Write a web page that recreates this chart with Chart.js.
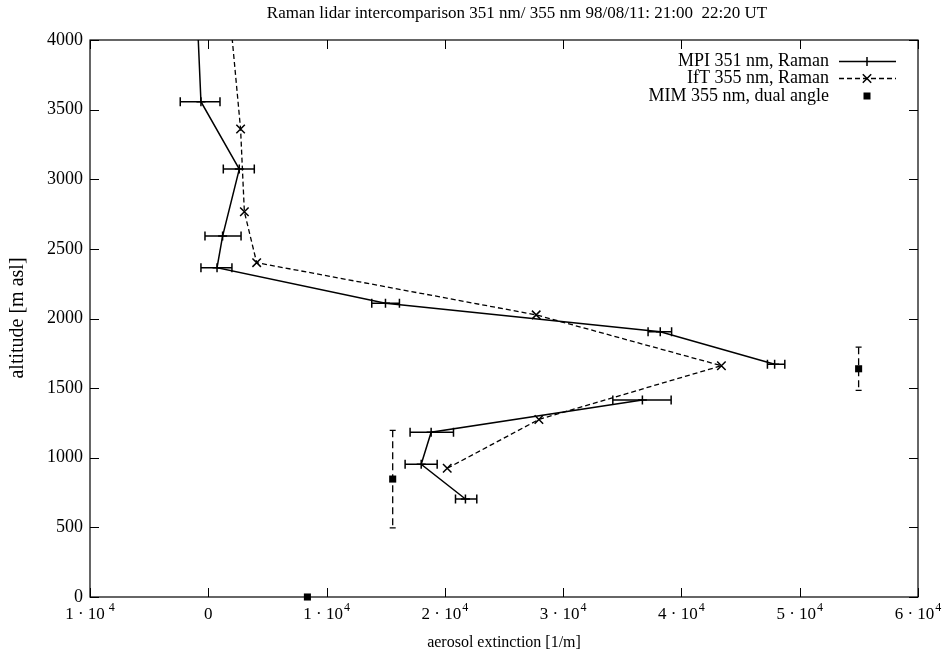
<!DOCTYPE html>
<html>
<head>
<meta charset="utf-8">
<script src="https://cdn.jsdelivr.net/npm/chart.js@4.4.1/dist/chart.umd.min.js"></script>
<style>
  html, body { margin: 0; padding: 0; background: #fff; }
  canvas { display: block; }
</style>
</head>
<body>
<canvas id="c" width="943" height="656"></canvas>
<script>
// ---------- data ----------
const titleText = 'Raman lidar intercomparison 351 nm/ 355 nm 98/08/11: 21:00  22:20 UT';
const xAxisTitle = 'aerosol extinction [1/m]';
const yAxisTitle = 'altitude [m asl]';

// MPI 351 nm, Raman (null = gap in the profile)
const mpiAlt = [4300, 3557, 3073, 2592, 2365, 2109, 1905, 1671, null, 1415, 1183, 953, 704];
const mpiExt = [-1000, -620, 2620, 1210, 740, 14980, 38210, 47880, null, 36700, 18840, 18000, 21740];
const mpiLo  = [null, -2370, 1270, -280, -620, 13820, 37180, 47270, null, 34200, 17060, 16640, 20900];
const mpiHi  = [null, 990, 3890, 2770, 2000, 16160, 39170, 48740, null, 39130, 20730, 19350, 22700];

// IfT 355 nm, Raman
const iftAlt = [4300, 3361, 2767, 2401, 2026, 1661, 1275, 924];
const iftExt = [1700, 2730, 3050, 4090, 27720, 43380, 27950, 20200];

// MIM 355 nm, dual angle
const mimAlt = [0, 847, 1639];
const mimExt = [8380, 15590, 54980];
const mimErr = [0, 350, 155];

// axes
const xTicks = [-10000, 0, 10000, 20000, 30000, 40000, 50000, 60000];
const xTickMant = ['1 \u00b7 10', '0', '1 \u00b7 10', '2 \u00b7 10', '3 \u00b7 10', '4 \u00b7 10', '5 \u00b7 10', '6 \u00b7 10'];
const xTickExp  = [' 4', '', '4', '4', '4', '4', '4', '4'];
const yTicks = [0, 500, 1000, 1500, 2000, 2500, 3000, 3500, 4000];

const legendLabels = ['MPI 351 nm, Raman', 'IfT 355 nm, Raman', 'MIM 355 nm, dual angle'];

// ---------- helpers ----------
const FONT = '"Liberation Serif", "Times New Roman", serif';
function pts(xs, ys) {
  return xs.map((v, i) => (v === null || ys[i] === null) ? { x: null, y: null } : { x: v, y: ys[i] });
}

const decor = {
  id: 'decor',
  afterDatasetsDraw(chart) {
    const { ctx, chartArea: a, scales: { x, y } } = chart;
    ctx.save();
    ctx.save();
    ctx.beginPath();
    ctx.rect(a.left, a.top, a.right - a.left, a.bottom - a.top);
    ctx.clip();
    ctx.strokeStyle = '#000';
    ctx.lineWidth = 1.5;
    for (let i = 0; i < mpiAlt.length; i++) {
      if (mpiAlt[i] === null || mpiLo[i] === null) continue;
      const py = y.getPixelForValue(mpiAlt[i]);
      const x1 = x.getPixelForValue(mpiLo[i]);
      const x2 = x.getPixelForValue(mpiHi[i]);
      ctx.beginPath();
      ctx.moveTo(x1, py); ctx.lineTo(x2, py);
      ctx.moveTo(x1, py - 4.5); ctx.lineTo(x1, py + 4.5);
      ctx.moveTo(x2, py - 4.5); ctx.lineTo(x2, py + 4.5);
      ctx.stroke();
    }
    ctx.restore();
    ctx.strokeStyle = '#000';
    ctx.lineWidth = 1.3;
    for (let i = 0; i < mimAlt.length; i++) {
      if (!mimErr[i]) continue;
      const px = x.getPixelForValue(mimExt[i]);
      const y1 = y.getPixelForValue(mimAlt[i] - mimErr[i]);
      const y2 = y.getPixelForValue(mimAlt[i] + mimErr[i]);
      ctx.setLineDash([7, 4]);
      ctx.beginPath();
      ctx.moveTo(px, y2); ctx.lineTo(px, y1);
      ctx.stroke();
      ctx.setLineDash([]);
      ctx.beginPath();
      ctx.moveTo(px - 3, y1); ctx.lineTo(px + 3, y1);
      ctx.moveTo(px - 3, y2); ctx.lineTo(px + 3, y2);
      ctx.stroke();
    }
    ctx.restore();
  },
  afterDraw(chart) {
    const { ctx, chartArea: a, scales: { x, y } } = chart;
    ctx.save();
    ctx.fillStyle = '#000';
    ctx.strokeStyle = '#000';
    ctx.lineWidth = 1.2;
    ctx.strokeRect(a.left, a.top, a.right - a.left, a.bottom - a.top);
    ctx.lineWidth = 1;
    ctx.beginPath();
    yTicks.forEach(v => {
      const py = Math.round(y.getPixelForValue(v)) + 0.5;
      ctx.moveTo(a.left, py); ctx.lineTo(a.left + 9, py);
      ctx.moveTo(a.right, py); ctx.lineTo(a.right - 9, py);
    });
    xTicks.forEach(v => {
      const px = Math.round(x.getPixelForValue(v)) + 0.5;
      ctx.moveTo(px, a.bottom); ctx.lineTo(px, a.bottom - 9);
      ctx.moveTo(px, a.top); ctx.lineTo(px, a.top + 9);
    });
    ctx.stroke();
    ctx.textBaseline = 'alphabetic';
    ctx.textAlign = 'left';
    xTicks.forEach((v, i) => {
      const px = x.getPixelForValue(v);
      ctx.font = '17px ' + FONT;
      const w1 = ctx.measureText(xTickMant[i]).width;
      ctx.font = '12px ' + FONT;
      const w2 = xTickExp[i] ? ctx.measureText(xTickExp[i]).width + 1 : 0;
      const start = px - (w1 + w2) / 2;
      ctx.font = '17px ' + FONT;
      ctx.fillText(xTickMant[i], start, 619);
      if (xTickExp[i]) {
        ctx.font = '12px ' + FONT;
        ctx.fillText(xTickExp[i], start + w1 + 1, 611);
      }
    });
    ctx.font = '17px ' + FONT;
    ctx.textAlign = 'center';
    ctx.textBaseline = 'middle';
    ctx.fillText(titleText, 517, 14);
    ctx.font = '16px ' + FONT;
    ctx.fillText(xAxisTitle, (a.left + a.right) / 2, 643);
    ctx.save();
    ctx.translate(18, 318);
    ctx.rotate(-Math.PI / 2);
    ctx.font = '20px ' + FONT;
    ctx.fillText(yAxisTitle, 0, 0);
    ctx.restore();
    const lx1 = 839, lx2 = 896, lxm = 867, tx = 829;
    const rows = [61.5, 78.5, 96];
    ctx.font = '18px ' + FONT;
    ctx.textAlign = 'right';
    legendLabels.forEach((t, i) => ctx.fillText(t, tx, rows[i]));
    ctx.lineWidth = 1.5;
    ctx.beginPath();
    ctx.moveTo(lx1, rows[0]); ctx.lineTo(lx2, rows[0]);
    ctx.moveTo(lxm, rows[0] - 4.5); ctx.lineTo(lxm, rows[0] + 4.5);
    ctx.stroke();
    ctx.setLineDash([5, 3]);
    ctx.beginPath();
    ctx.moveTo(lx1, rows[1]); ctx.lineTo(lx2, rows[1]);
    ctx.stroke();
    ctx.setLineDash([]);
    ctx.beginPath();
    ctx.moveTo(lxm - 4.2, rows[1] - 4.2); ctx.lineTo(lxm + 4.2, rows[1] + 4.2);
    ctx.moveTo(lxm - 4.2, rows[1] + 4.2); ctx.lineTo(lxm + 4.2, rows[1] - 4.2);
    ctx.stroke();
    ctx.fillRect(lxm - 3.5, rows[2] - 3.5, 7, 7);
    ctx.restore();
  }
};

new Chart(document.getElementById('c'), {
  type: 'line',
  data: {
    datasets: [
      {
        label: legendLabels[0],
        data: pts(mpiExt, mpiAlt),
        borderColor: '#000',
        borderWidth: 1.5,
        pointStyle: 'cross',
        pointRadius: 4.5,
        pointBorderWidth: 1.5,
        pointBorderColor: '#000',
        spanGaps: false,
        tension: 0,
        fill: false
      },
      {
        label: legendLabels[1],
        data: pts(iftExt, iftAlt),
        borderColor: '#000',
        borderWidth: 1.3,
        borderDash: [5, 3],
        pointStyle: 'crossRot',
        pointRadius: 6,
        pointBorderWidth: 1.5,
        pointBorderColor: '#000',
        tension: 0,
        fill: false
      },
      {
        label: legendLabels[2],
        data: pts(mimExt, mimAlt),
        showLine: false,
        pointStyle: 'rect',
        pointRadius: 5,
        pointBorderWidth: 0,
        pointBackgroundColor: '#000',
        pointBorderColor: '#000',
        clip: false
      }
    ]
  },
  options: {
    responsive: false,
    animation: false,
    devicePixelRatio: 1,
    layout: { padding: { top: 40, right: 25, left: 0, bottom: 0 } },
    plugins: { legend: { display: false }, title: { display: false }, tooltip: { enabled: false } },
    scales: {
      x: {
        type: 'linear',
        min: -10000, max: 60000,
        grid: { display: false, drawTicks: false },
        border: { display: false },
        ticks: { display: false, stepSize: 10000 },
        afterFit(s) { s.height = 59; }
      },
      y: {
        type: 'linear',
        min: 0, max: 4000,
        grid: { display: false, drawTicks: false },
        border: { display: false },
        ticks: {
          stepSize: 500,
          padding: 7,
          color: '#000',
          font: { family: FONT, size: 18 },
          callback: (v) => String(v)
        },
        afterFit(s) { s.width = 90; }
      }
    }
  },
  plugins: [decor]
});
</script>
</body>
</html>
